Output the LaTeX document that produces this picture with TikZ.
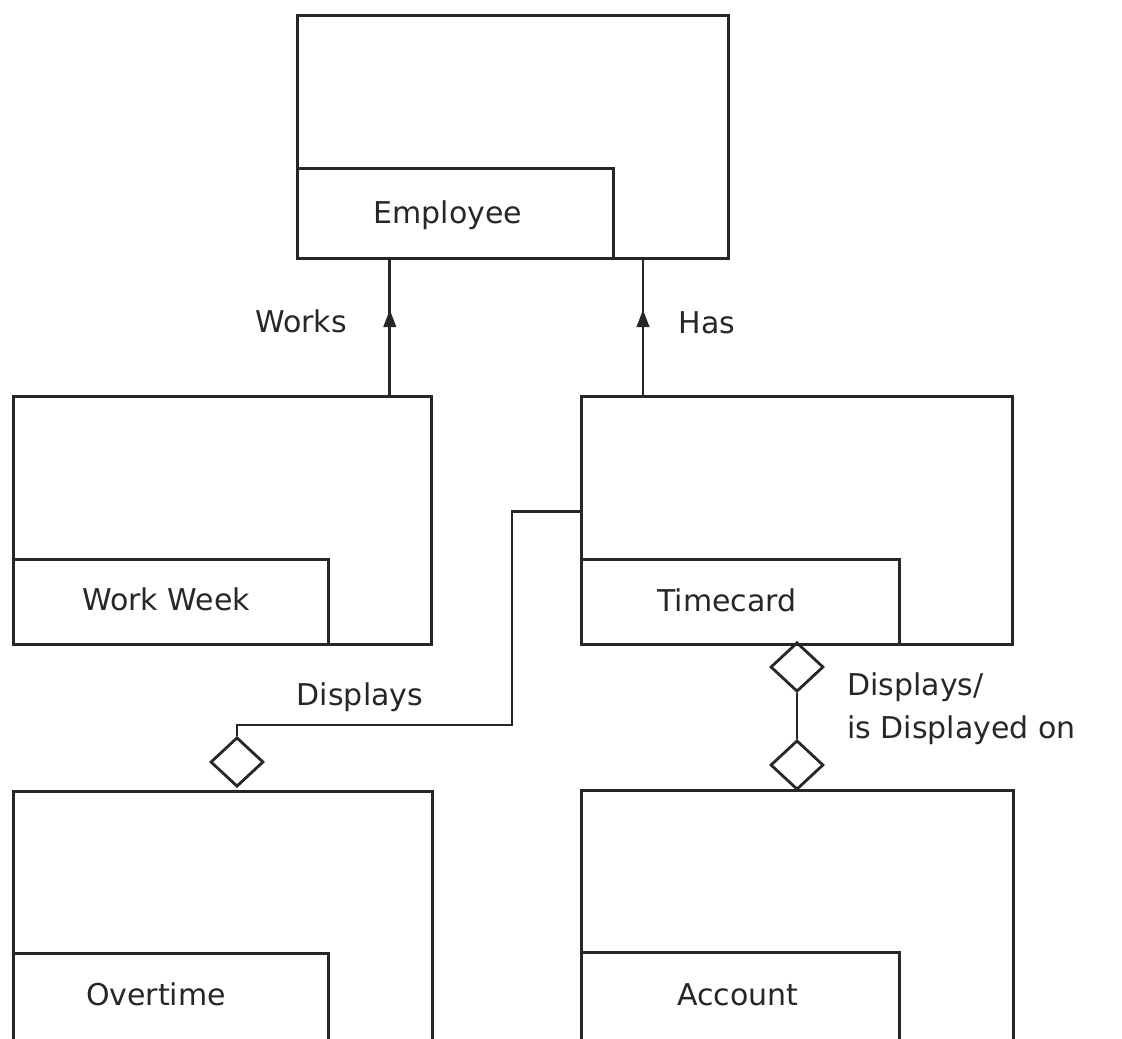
\documentclass[tikz,border=0pt]{standalone}
\usepackage{fontspec}
\setmainfont{DejaVu Sans}
\usetikzlibrary{shapes.geometric,arrows.meta,decorations.markings,calc}
\definecolor{ink}{HTML}{2A2627}
\begin{document}
\begin{tikzpicture}[x=0.75pt,y=-0.75pt,
  every node/.style={font=\fontsize{22.5}{32.25}\selectfont, text=ink},
  entity/.style={draw=ink, line width=2.1pt, rectangle, anchor=north west, inner sep=0pt},
  labelbox/.style={draw=ink, line width=2.1pt, rectangle, anchor=north west, inner sep=0pt},
  caption/.style={anchor=base, inner sep=0pt},
  relabel/.style={anchor=base, inner sep=0pt},
  dmd/.style={draw=ink, line width=2.1pt, diamond, inner sep=0pt, minimum width=39.75pt, minimum height=37pt},
  rel/.style={draw=ink, line width=2.1pt},
  upmid/.style={rel, postaction={decorate}, decoration={markings,
    mark=at position 0.6 with {\fill[ink] (3pt,0) -- (-10pt,5pt) -- (-10pt,-5pt) -- cycle;}}}
]
\useasboundingbox[fill=white] (0,0) rectangle (1122,1039);

% entity boxes (outer frame) and their name boxes
\node[entity, minimum width=323.25pt, minimum height=182.25pt] (emp) at (296,14) {};
\node[labelbox, minimum width=237pt, minimum height=67.5pt] (empL) at (296,167) {};
\node[caption] (empT) at (448,223) {Employee};

\node[entity, minimum width=313.5pt, minimum height=186pt] (ww) at (12,395) {};
\node[labelbox, minimum width=236.25pt, minimum height=63.75pt] (wwL) at (12,558) {};
\node[caption] (wwT) at (166,610) {Work Week};

\node[entity, minimum width=323.25pt, minimum height=186pt] (tc) at (580,395) {};
\node[labelbox, minimum width=238.5pt, minimum height=63.75pt] (tcL) at (580,558) {};
\node[caption] (tcT) at (727,611) {Timecard};

\node[entity, minimum width=314.25pt, minimum height=225pt] (ot) at (12,790) {};
\node[labelbox, minimum width=236.25pt, minimum height=105pt] (otL) at (12,952) {};
\node[caption] (otT) at (156,1005) {Overtime};

\node[entity, minimum width=324pt, minimum height=225pt] (ac) at (580,789) {};
\node[labelbox, minimum width=238.5pt, minimum height=105pt] (acL) at (580,951) {};
\node[caption] (acT) at (738,1005) {Account};

% relationship diamonds
\node[dmd] (dOT) at (237,762) {};
\node[dmd] (dTC) at (797,667) {};
\node[dmd] (dAC) at (797,765) {};

% Works
\draw[upmid] ([xshift=-32.25pt]ww.north east) -- ([xshift=-32.25pt]ww.north east |- emp.south);
\node[relabel] (worksT) at (301,332) {Works};

% Has
\draw[upmid] ([xshift=47.25pt]tc.north west) -- ([xshift=47.25pt]tc.north west |- emp.south);
\node[relabel] (hasT) at (707,333) {Has};

% Displays (Timecard to Overtime)
\coordinate (bendA) at (512,725);
\draw[rel] ([yshift=6.75pt]tc.west) -| (bendA) -| (dOT.north);
\node[relabel] (dispT) at (360,705) {Displays};

% Displays / is Displayed on (Timecard to Account)
\draw[rel] (dTC.south) -- (dAC.north);
\node[relabel, anchor=base west, align=left] (dispT2) at (847,738) {Displays/\\is Displayed on};
\end{tikzpicture}
\end{document}
